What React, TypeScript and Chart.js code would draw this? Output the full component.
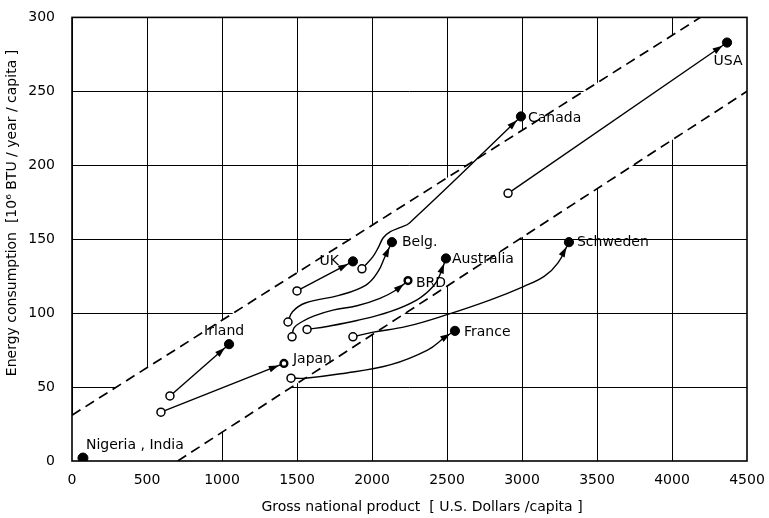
import React, { useEffect, useRef } from "react";
import { Chart, registerables } from "chart.js";

Chart.register(...registerables);

// ---- axis ticks ----
const xMin = 0;
const xMax = 4500;
const xStep = 500;
const yMin = 0;
const yMax = 300;
const yStep = 50;

// ---- country trajectories [GNP $/capita, energy 10^6 BTU/capita] ----
const nigeriaIndia = [[73, 2]];
const irland = [[653, 44], [1047, 79]];
const japan = [[593, 33], [1413, 66]];
const uk = [[1500, 115], [1873, 135]];
const belg = [[1440, 94], [1470, 101], [1560, 107], [1780, 112], [1960, 119], [2040, 128], [2090, 139], [2133, 148]];
const brd = [[1467, 84], [1480, 90], [1530, 94], [1610, 98], [1740, 102], [1900, 105], [2053, 110], [2167, 116], [2240, 122]];
const australia = [[1567, 89], [1700, 91], [1900, 95], [2120, 101], [2300, 109], [2407, 118], [2453, 126], [2493, 137]];
const france = [[1460, 56], [1553, 56], [1790, 59], [2120, 65], [2370, 75], [2490, 84], [2553, 88]];
const schweden = [[1873, 84], [2000, 87], [2230, 91], [2500, 99], [2790, 109], [3010, 118], [3150, 125], [3240, 134], [3313, 148]];
const canada = [[1933, 130], [2005, 138], [2045, 145], [2075, 151], [2120, 155], [2190, 158], [2250, 161], [2993, 233]];
const usa = [[2907, 181], [4367, 283]];

// ---- band boundaries ----
const upperBound = [[0, 31], [4190, 300]];
const lowerBound = [[705, 0], [4500, 250]];

// ---- text ----
const xTitle = "Gross national product  [ U.S. Dollars /capita ]";
const yTitle = "Energy consumption  [10\u2076 BTU / year / capita ]";

type Country = {
  name: string;
  pts: number[][];
  end: "filled" | "ring";
  curved: boolean;
  dx: number;
  dy: number;
  align: CanvasTextAlign;
};

const countries: Country[] = [
  { name: "Nigeria , India", pts: nigeriaIndia, end: "filled", curved: false, dx: 3, dy: -13, align: "left" },
  { name: "Irland", pts: irland, end: "filled", curved: false, dx: -25, dy: -13, align: "left" },
  { name: "Japan", pts: japan, end: "ring", curved: false, dx: 9, dy: -4, align: "left" },
  { name: "UK", pts: uk, end: "filled", curved: false, dx: -14, dy: 0, align: "right" },
  { name: "Belg.", pts: belg, end: "filled", curved: true, dx: 10, dy: 0, align: "left" },
  { name: "BRD", pts: brd, end: "ring", curved: true, dx: 8, dy: 3, align: "left" },
  { name: "Australia", pts: australia, end: "filled", curved: true, dx: 6, dy: 1, align: "left" },
  { name: "France", pts: france, end: "filled", curved: true, dx: 9, dy: 1, align: "left" },
  { name: "Schweden", pts: schweden, end: "filled", curved: true, dx: 8, dy: 0, align: "left" },
  { name: "Canada", pts: canada, end: "filled", curved: true, dx: 7, dy: 2, align: "left" },
  { name: "USA", pts: usa, end: "filled", curved: false, dx: 1, dy: 19, align: "center" },
];

const FONT = "'DejaVu Sans', sans-serif";

// Grid drawn through the library's scales, omitted inside the dashed band.
const gridPlugin = {
  id: "bandGrid",
  beforeDatasetsDraw(chart: any) {
    const { ctx, chartArea: a, scales } = chart;
    const xs = scales.x;
    const ys = scales.y;
    ctx.save();
    ctx.beginPath();
    ctx.rect(a.left, a.top, a.right - a.left, a.bottom - a.top);
    ctx.moveTo(xs.getPixelForValue(upperBound[0][0]), ys.getPixelForValue(upperBound[0][1]));
    ctx.lineTo(xs.getPixelForValue(upperBound[1][0]), ys.getPixelForValue(upperBound[1][1]));
    ctx.lineTo(a.right, a.top);
    ctx.lineTo(xs.getPixelForValue(lowerBound[1][0]), ys.getPixelForValue(lowerBound[1][1]));
    ctx.lineTo(xs.getPixelForValue(lowerBound[0][0]), ys.getPixelForValue(lowerBound[0][1]));
    ctx.lineTo(a.left, a.bottom);
    ctx.closePath();
    ctx.clip("evenodd");
    ctx.strokeStyle = "#000";
    ctx.lineWidth = 1;
    ctx.beginPath();
    xs.ticks.forEach((t: any) => {
      const px = Math.round(xs.getPixelForValue(t.value)) + 0.5;
      ctx.moveTo(px, a.top);
      ctx.lineTo(px, a.bottom);
    });
    ys.ticks.forEach((t: any) => {
      const py = Math.round(ys.getPixelForValue(t.value)) + 0.5;
      ctx.moveTo(a.left, py);
      ctx.lineTo(a.right, py);
    });
    ctx.stroke();
    ctx.restore();
    ctx.save();
    ctx.strokeStyle = "#000";
    ctx.lineWidth = 1.6;
    ctx.strokeRect(a.left, a.top, a.right - a.left, a.bottom - a.top);
    ctx.restore();
  },
};

const annotPlugin = {
  id: "annot",
  afterDatasetsDraw(chart: any) {
    const { ctx } = chart;
    ctx.save();
    countries.forEach((c, i) => {
      const meta = chart.getDatasetMeta(i + 2);
      const pts = meta.data;
      const last = pts[pts.length - 1];
      if (pts.length >= 2) {
        const prev = pts[pts.length - 2];
        let ux = last.x - prev.x;
        let uy = last.y - prev.y;
        const len = Math.hypot(ux, uy) || 1;
        ux /= len;
        uy /= len;
        const tipX = last.x - ux * 5.5;
        const tipY = last.y - uy * 5.5;
        const bx = tipX - ux * 10;
        const by = tipY - uy * 10;
        const hw = 3.3;
        ctx.beginPath();
        ctx.moveTo(tipX, tipY);
        ctx.lineTo(bx - uy * hw, by + ux * hw);
        ctx.lineTo(bx + uy * hw, by - ux * hw);
        ctx.closePath();
        ctx.fillStyle = "#000";
        ctx.fill();
      }
      ctx.font = `14px ${FONT}`;
      ctx.fillStyle = "#000";
      ctx.textAlign = c.align;
      ctx.textBaseline = "middle";
      ctx.fillText(c.name, last.x + c.dx, last.y + c.dy);
    });
    ctx.font = `14px ${FONT}`;
    ctx.textAlign = "center";
    ctx.textBaseline = "middle";
    ctx.fillText(xTitle, 422, 507);
    ctx.translate(12, 213);
    ctx.rotate(-Math.PI / 2);
    ctx.fillText(yTitle, 0, 0);
    ctx.restore();
  },
};

export default function App() {
  const ref = useRef<HTMLCanvasElement | null>(null);
  useEffect(() => {
    document.body.style.margin = "0";
    const canvas = ref.current;
    if (!canvas) return;
    const toXY = (p: number[][]) => p.map(([x, y]) => ({ x, y }));
    const datasets: any[] = [
      {
        data: toXY(upperBound),
        showLine: true,
        borderColor: "#000",
        borderWidth: 1.7,
        borderDash: [10, 6],
        pointRadius: 0,
      },
      {
        data: toXY(lowerBound),
        showLine: true,
        borderColor: "#000",
        borderWidth: 1.7,
        borderDash: [10, 6],
        pointRadius: 0,
      },
    ];
    countries.forEach((c) => {
      const n = c.pts.length;
      const radius = c.pts.map((_, i) =>
        n === 1 ? 5 : i === 0 ? 4 : i === n - 1 ? (c.end === "ring" ? 3.4 : 4.6) : 0
      );
      const bg = c.pts.map((_, i) =>
        n === 1 ? "#000" : i === 0 ? "#fff" : c.end === "ring" ? "#fff" : "#000"
      );
      const bw = c.pts.map((_, i) =>
        n === 1 ? 1 : i === 0 ? 1.5 : c.end === "ring" ? 2.4 : 1
      );
      datasets.push({
        label: c.name,
        data: toXY(c.pts),
        showLine: n > 1,
        borderColor: "#000",
        borderWidth: 1.4,
        tension: c.curved ? 0.4 : 0,
        pointRadius: radius,
        pointHoverRadius: radius,
        pointBackgroundColor: bg,
        pointBorderColor: "#000",
        pointBorderWidth: bw,
      });
    });

    const chart = new Chart(canvas, {
      type: "scatter",
      data: { datasets },
      options: {
        animation: false,
        responsive: false,
        devicePixelRatio: 1,
        layout: { padding: { left: 0, top: 8, right: 22, bottom: 0 } },
        plugins: {
          legend: { display: false },
          tooltip: { enabled: false },
        },
        scales: {
          x: {
            type: "linear",
            min: xMin,
            max: xMax,
            afterFit: (s: any) => {
              s.height = 57;
            },
            ticks: {
              stepSize: xStep,
              color: "#000",
              padding: 3,
              maxRotation: 0,
              font: { family: FONT, size: 14 },
              callback: (v: any) => String(v),
            },
            grid: { display: false },
            border: { display: false },
          },
          y: {
            type: "linear",
            min: yMin,
            max: yMax,
            afterFit: (s: any) => {
              s.width = 72;
            },
            ticks: {
              stepSize: yStep,
              color: "#000",
              padding: 9,
              font: { family: FONT, size: 14 },
              callback: (v: any) => String(v),
            },
            grid: { display: false },
            border: { display: false },
          },
        },
      },
      plugins: [gridPlugin, annotPlugin],
    });
    return () => chart.destroy();
  }, []);
  return (
    <div style={{ width: 769, height: 518 }}>
      <canvas ref={ref} width={769} height={518} style={{ display: "block" }} />
    </div>
  );
}
